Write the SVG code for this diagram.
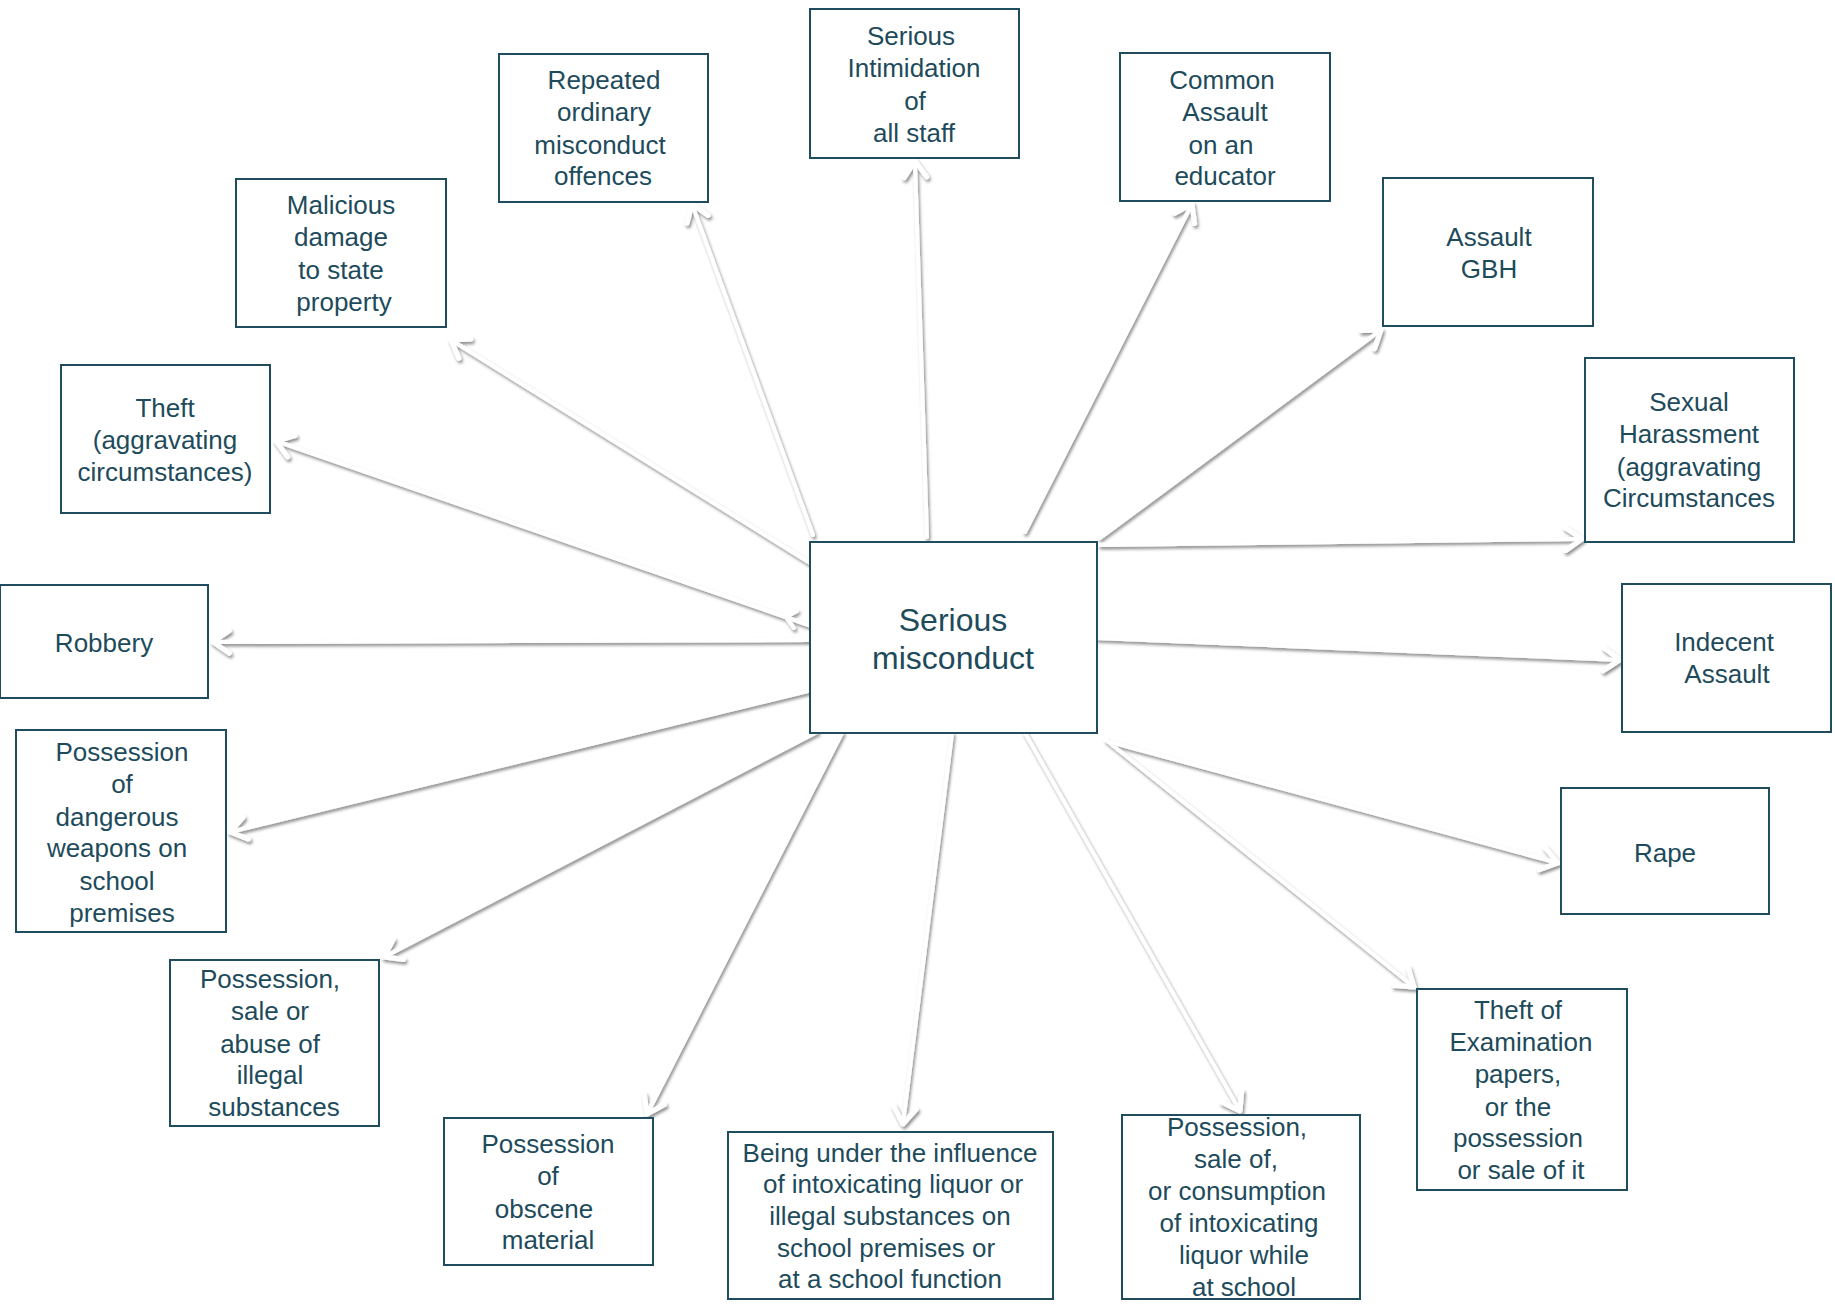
<svg xmlns="http://www.w3.org/2000/svg" width="1835" height="1304" viewBox="0 0 1835 1304">
<style>
.box{fill:#fff;stroke:#1f4d5d;stroke-width:2}
text{font-family:"Liberation Sans",Arial,sans-serif;font-size:26px;fill:#1e4b5b;text-anchor:middle}
.big{font-size:32px}
.con{stroke:#fff;stroke-width:4;fill:none;stroke-linecap:round;marker-end:url(#ah)}
</style>
<defs>
<filter id="sh" x="-10%" y="-10%" width="120%" height="120%">
<feDropShadow dx="1.5" dy="2.5" stdDeviation="1.8" flood-color="#000" flood-opacity="0.45"/>
</filter>
<marker id="ah" markerUnits="userSpaceOnUse" markerWidth="30" markerHeight="30" viewBox="-16 -12 20 24" refX="0" refY="0" orient="auto">
<path d="M-13,-9 L0,0 L-13,9" fill="none" stroke="#fff" stroke-width="4" stroke-linecap="round" stroke-linejoin="round"/>
</marker>
</defs>
<rect width="1835" height="1304" fill="#fff"/>
<g id="connectors" filter="url(#sh)">
<line class="con" x1="927" y1="537" x2="915" y2="161"/>
<line class="con" x1="813" y1="535" x2="692" y2="204"/>
<line class="con" x1="1025" y1="532" x2="1192" y2="204"/>
<line class="con" x1="810" y1="563" x2="451" y2="340"/>
<line class="con" x1="1100" y1="538" x2="1381" y2="330"/>
<line class="con" x1="823" y1="630" x2="276" y2="441"/>
<path d="M797,611 L786,617 L794,628" fill="none" stroke="#fff" stroke-width="4" stroke-linecap="round" stroke-linejoin="round"/>
<line class="con" x1="1100" y1="545" x2="1582" y2="539"/>
<line class="con" x1="810" y1="640" x2="213" y2="642"/>
<line class="con" x1="1097" y1="638" x2="1620" y2="660"/>
<line class="con" x1="820" y1="688" x2="230" y2="832"/>
<line class="con" x1="1110" y1="742" x2="1558" y2="863"/>
<line class="con" x1="817" y1="732" x2="384" y2="957"/>
<line class="con" x1="1106" y1="740" x2="1414" y2="987"/>
<line class="con" x1="842" y1="733" x2="647" y2="1114"/>
<line class="con" x1="952" y1="734" x2="903" y2="1124"/>
<line class="con" x1="1025" y1="733" x2="1240" y2="1111"/>
</g>
<g id="n-center"><rect class="box" x="810" y="542" width="287" height="191"/>
<text class="big" x="953" y="631">Serious</text><text class="big" x="953" y="669">misconduct</text></g>
<g id="n-intimidation"><rect class="box" x="810" y="9" width="209" height="149"/>
<text x="911" y="45">Serious</text><text x="914" y="77">Intimidation</text><text x="915" y="110">of</text><text x="914" y="142">all staff</text></g>
<g id="n-repeated"><rect class="box" x="499" y="54" width="209" height="148"/>
<text x="604" y="89">Repeated</text><text x="604" y="121">ordinary</text><text x="600" y="154">misconduct</text><text x="603" y="185">offences</text></g>
<g id="n-common"><rect class="box" x="1120" y="53" width="210" height="148"/>
<text x="1222" y="89">Common</text><text x="1225" y="121">Assault</text><text x="1221" y="154">on an</text><text x="1225" y="185">educator</text></g>
<g id="n-malicious"><rect class="box" x="236" y="179" width="210" height="148"/>
<text x="341" y="214">Malicious</text><text x="341" y="246">damage</text><text x="341" y="279">to state</text><text x="344" y="311">property</text></g>
<g id="n-gbh"><rect class="box" x="1383" y="178" width="210" height="148"/>
<text x="1489" y="246">Assault</text><text x="1489" y="278">GBH</text></g>
<g id="n-theft"><rect class="box" x="61" y="365" width="209" height="148"/>
<text x="165" y="417">Theft</text><text x="165" y="449">(aggravating</text><text x="165" y="481">circumstances)</text></g>
<g id="n-sexual"><rect class="box" x="1585" y="358" width="209" height="184"/>
<text x="1689" y="411">Sexual</text><text x="1689" y="443">Harassment</text><text x="1689" y="476">(aggravating</text><text x="1689" y="507">Circumstances</text></g>
<g id="n-robbery"><rect class="box" x="0" y="585" width="208" height="113"/>
<text x="104" y="652">Robbery</text></g>
<g id="n-indecent"><rect class="box" x="1622" y="584" width="209" height="148"/>
<text x="1724" y="651">Indecent</text><text x="1727" y="683">Assault</text></g>
<g id="n-weapons"><rect class="box" x="16" y="730" width="210" height="202"/>
<text x="122" y="761">Possession</text><text x="122" y="793">of</text><text x="117" y="826">dangerous</text><text x="117" y="857">weapons on</text><text x="117" y="890">school</text><text x="122" y="922">premises</text></g>
<g id="n-rape"><rect class="box" x="1561" y="788" width="208" height="126"/>
<text x="1665" y="862">Rape</text></g>
<g id="n-illegal"><rect class="box" x="170" y="960" width="209" height="166"/>
<text x="270" y="988">Possession,</text><text x="270" y="1020">sale or</text><text x="270" y="1053">abuse of</text><text x="270" y="1084">illegal</text><text x="274" y="1116">substances</text></g>
<g id="n-exam"><rect class="box" x="1417" y="989" width="210" height="201"/>
<text x="1518" y="1019">Theft of</text><text x="1521" y="1051">Examination</text><text x="1518" y="1083">papers,</text><text x="1518" y="1116">or the</text><text x="1518" y="1147">possession</text><text x="1521" y="1179">or sale of it</text></g>
<g id="n-obscene"><rect class="box" x="444" y="1118" width="209" height="147"/>
<text x="548" y="1153">Possession</text><text x="548" y="1185">of</text><text x="544" y="1218">obscene</text><text x="548" y="1249">material</text></g>
<g id="n-being"><rect class="box" x="728" y="1132" width="325" height="167"/>
<text x="890" y="1162">Being under the influence</text><text x="893" y="1193">of intoxicating liquor or</text><text x="890" y="1225">illegal substances on</text><text x="886" y="1257">school premises or</text><text x="890" y="1288">at a school function</text></g>
<g id="n-consumption"><rect class="box" x="1122" y="1115" width="238" height="184"/>
<text x="1237" y="1136">Possession,</text><text x="1236" y="1168">sale of,</text><text x="1237" y="1200">or consumption</text><text x="1239" y="1232">of intoxicating</text><text x="1244" y="1264">liquor while</text><text x="1244" y="1296">at school</text></g>
</svg>
